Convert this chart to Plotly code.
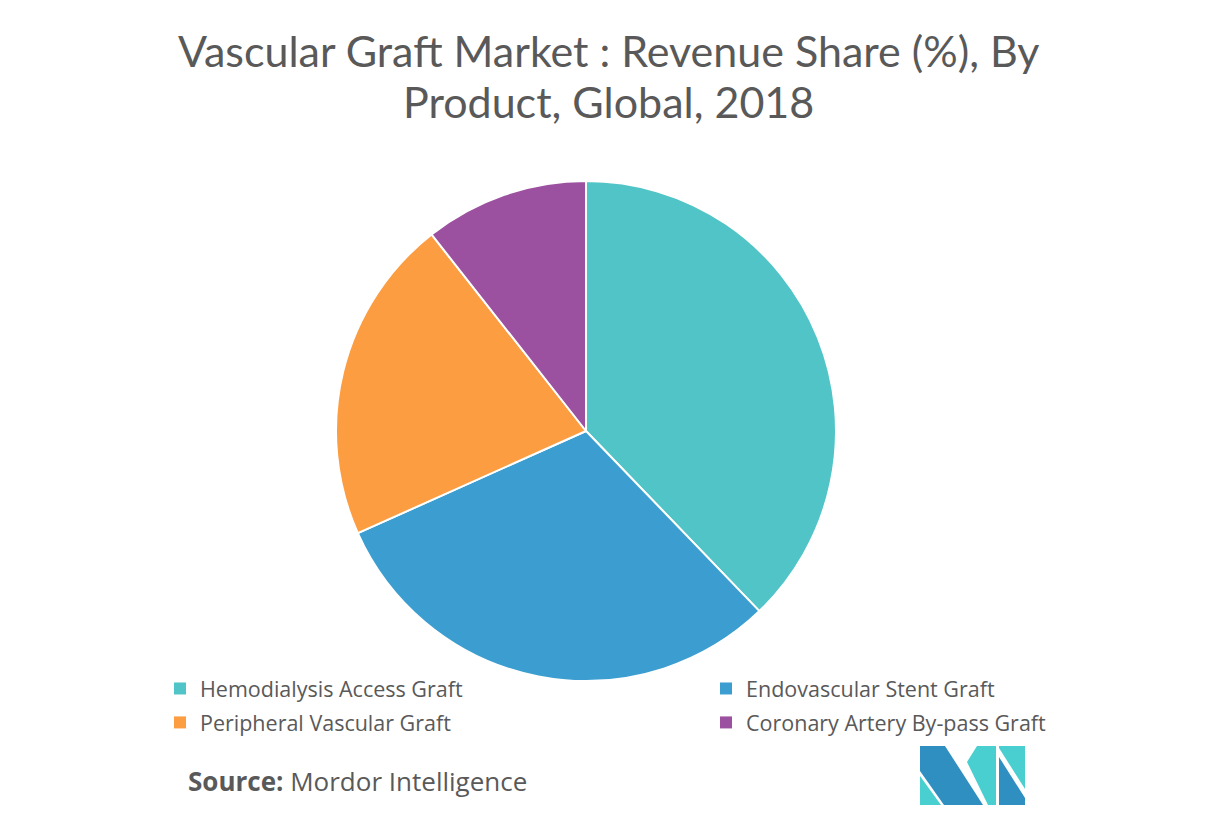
import plotly.graph_objects as go

labels = ["Hemodialysis Access Graft", "Endovascular Stent Graft",
          "Peripheral Vascular Graft", "Coronary Artery By-pass Graft"]
values = [37.8, 30.5, 21.1, 10.6]
colors = ["#50C4C6", "#3C9ED0", "#FC9D42", "#9C51A0"]
legend_cols = ["legend", "legend2", "legend", "legend2"]
title_lines = ["Vascular Graft Market : Revenue Share (%), By", "Product, Global, 2018"]

# page body has an 8px margin: work in reference pixels and shift by OFF
OFF = 8
W, H = 1217 - 2 * OFF, 817 - 2 * OFF

def fx(x):
    return (x - OFF) / W

def fy(y):
    return 1 - (y - OFF) / H

fig = go.Figure()
fig.add_trace(go.Pie(
    labels=labels, values=values, sort=False, direction="clockwise", rotation=0,
    marker=dict(colors=colors, line=dict(color="white", width=2)),
    textinfo="none", hoverinfo="label+percent", showlegend=False,
    domain=dict(x=[fx(336), fx(836)], y=[fy(681), fy(181)]),
))

# legend entries (two columns, as in the reference)
for lab, col, lg in zip(labels, colors, legend_cols):
    fig.add_trace(go.Scatter(
        x=[None], y=[None], mode="markers", name=lab, legend=lg, legendgroup=lab,
        marker=dict(symbol="square", size=12, color=col), hoverinfo="skip",
    ))

def poly(pts, color):
    path = "M " + " L ".join(f"{fx(x)},{fy(y)}" for x, y in pts) + " Z"
    fig.add_shape(type="path", path=path, xref="paper", yref="paper",
                  fillcolor=color, line=dict(width=0))

# logo
dark, light = "#2E8FC0", "#4ACFD0"
poly([(920, 776), (920, 805), (941, 805)], light)
poly([(920, 746), (945, 746), (983, 805), (944, 805), (920, 771)], dark)
poly([(977, 746), (996, 746), (996, 805), (988, 805), (967, 762)], light)
poly([(999, 757), (1025, 798), (1025, 805), (999, 805)], dark)
poly([(999, 746), (1025, 746), (1025, 789), (999, 748)], light)

annots = []
for txt, yc in zip(title_lines, [50, 102]):
    annots.append(dict(text=txt, x=fx(608), y=fy(yc), xref="paper", yref="paper",
                       xanchor="center", yanchor="middle", showarrow=False,
                       font=dict(family="Lato", size=43, color="#595959")))
annots.append(dict(text="<b>Source:</b> Mordor Intelligence", x=fx(186), y=fy(781),
                   xref="paper", yref="paper", xanchor="left", yanchor="middle",
                   showarrow=False, font=dict(family="Open Sans", size=26, color="#595959")))

leg_common = dict(orientation="v", yanchor="top", xanchor="left",
                  font=dict(family="Open Sans", size=21.5, color="#595959"),
                  itemclick=False, itemdoubleclick=False, tracegroupgap=3,
                  bgcolor="rgba(0,0,0,0)")

fig.update_layout(
    width=W, height=H,
    margin=dict(l=0, r=0, t=0, b=0, autoexpand=False),
    paper_bgcolor="white", plot_bgcolor="white",
    xaxis=dict(visible=False), yaxis=dict(visible=False),
    showlegend=True,
    legend=dict(x=fx(160), y=fy(668), **leg_common),
    legend2=dict(x=fx(706), y=fy(668), **leg_common),
    annotations=annots,
)
fig.write_html("out.html")
